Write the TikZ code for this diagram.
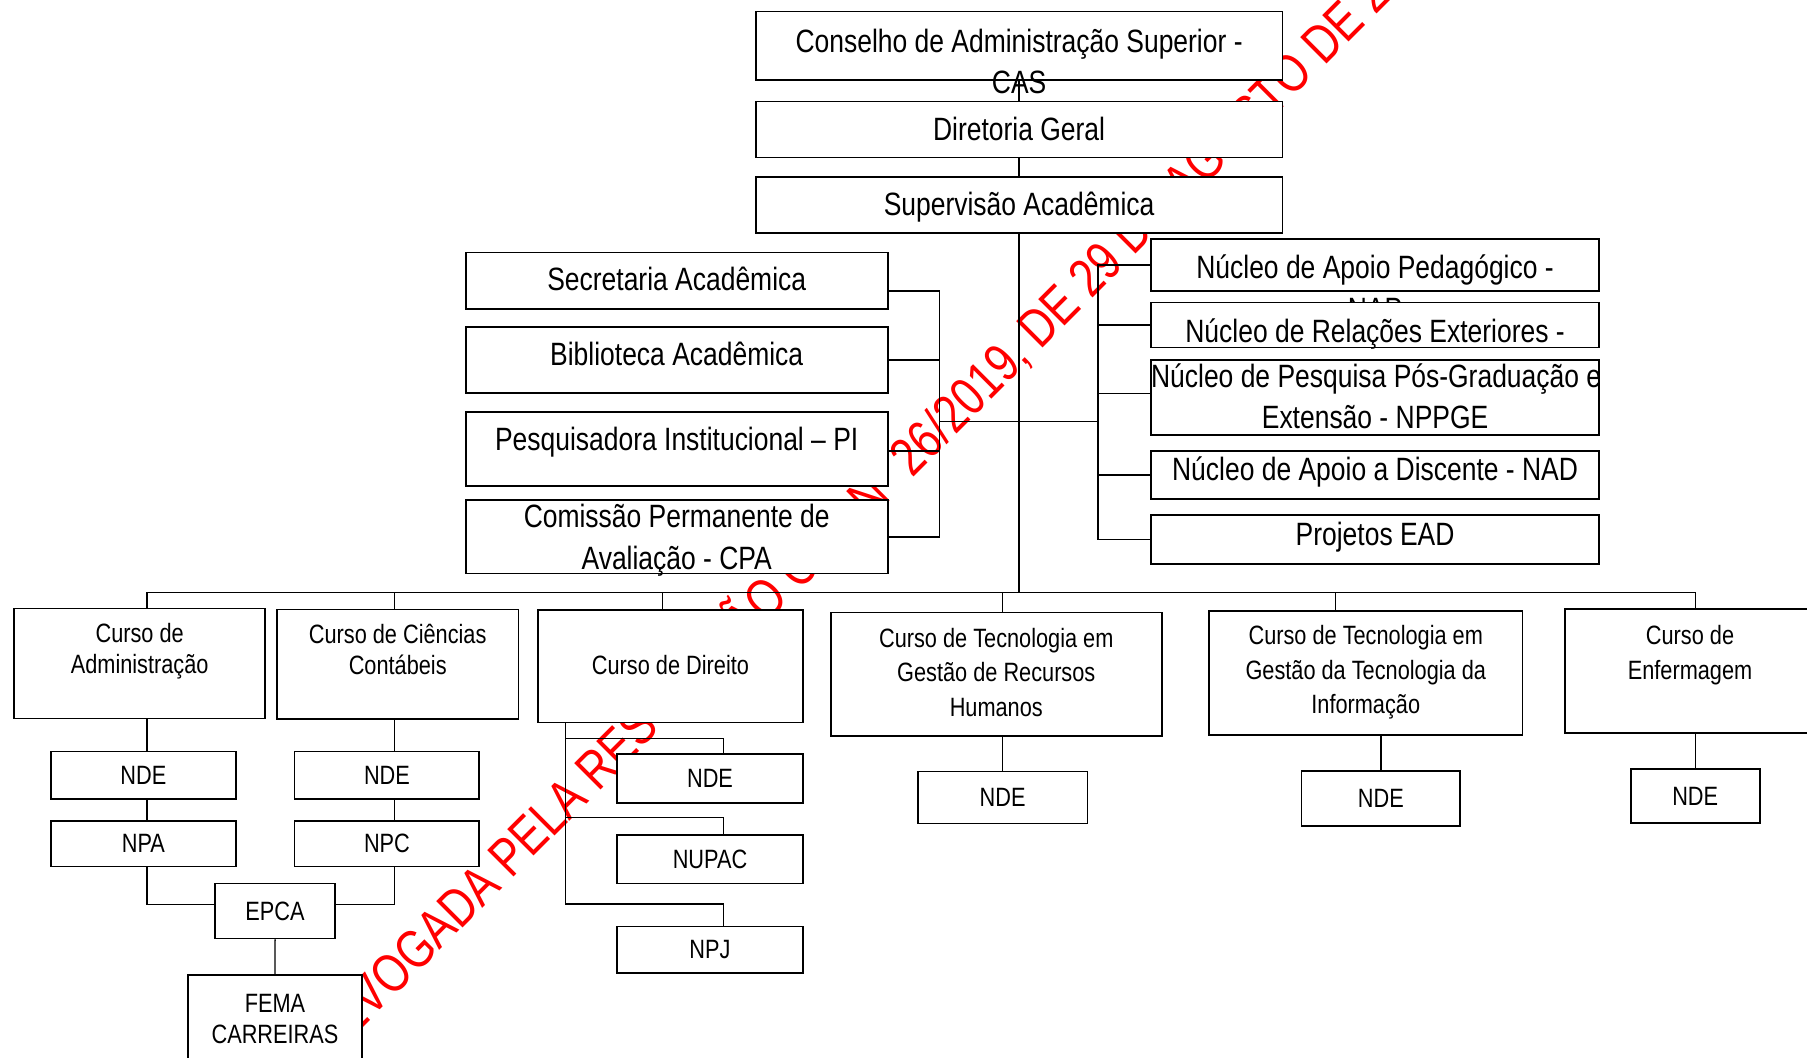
\documentclass[tikz,border=0pt]{standalone}
\usepackage{fontspec}
\setmainfont[FakeStretch=0.82]{Liberation Sans}
\newfontfamily\wmfont[FakeStretch=0.8]{Liberation Sans}

\pgfdeclarelayer{wm}
\pgfdeclarelayer{links}
\pgfsetlayers{wm,links,main}

\tikzset{
	orgbox/.style={draw, fill=white, line width=1.5pt, inner sep=0pt, align=flush center, anchor=north},
	big/.style={font=\fontsize{28}{36}\selectfont},
	small/.style={font=\fontsize{23}{27}\selectfont},
	wide/.style={font=\fontsize{23}{30}\selectfont},
	dims/.style n args={3}{text width=#1pt, text height=#2pt, text depth=#3pt},
	leaf/.style 2 args={orgbox, small, minimum width=#1pt, minimum height=#2pt},
	link/.style={line width=1.2pt}
}

\begin{document}
\begin{tikzpicture}[x=1pt, y=-1pt]
	\useasboundingbox (0,0) rectangle (1568,918);

	% direction
	\node [orgbox, big, dims={457}{35.5}{24}] (cas) at (884.3,9.3) {Conselho de Administração Superior -\\CAS};
	\node [orgbox, big, dims={457}{34.1}{14.5}] (dg) at (884.3,87.4) {Diretoria Geral};
	\node [orgbox, big, dims={457}{33.9}{15}] (sup) at (884.3,152.7) {Supervisão Acadêmica};

	% left group
	\node [orgbox, big, dims={366.3}{33.2}{16}] (sec) at (587.2,218.4) {Secretaria Acadêmica};
	\node [orgbox, big, dims={366.3}{33.8}{23.7}] (bib) at (587.2,282.9) {Biblioteca Acadêmica};
	\node [orgbox, big, dims={366.3}{33.9}{30.4}] (pi) at (587.2,356.6) {Pesquisadora Institucional – PI};
	\node [orgbox, big, dims={366.3}{23.7}{39.9}] (cpa) at (587.2,433.3) {Comissão Permanente de\\Avaliação - CPA};

	% right group
	\node [orgbox, big, dims={388.7}{34.5}{10.3}] (nap) at (1193.2,206.8) {Núcleo de Apoio Pedagógico -\\NAP};
	\node [orgbox, big, dims={388.7}{34.5}{4.5}] (nre) at (1193.2,261.8) {Núcleo de Relações Exteriores -};
	\node [orgbox, big, dims={388.7}{23.7}{41.4}] (nppge) at (1193.2,311.8) {\mbox{Núcleo de Pesquisa Pós-Graduação e}\\Extensão - NPPGE};
	\node [orgbox, big, dims={388.7}{26}{15.9}] (nad) at (1193.2,390.5) {Núcleo de Apoio a Discente - NAD};
	\node [orgbox, big, dims={388.7}{26.6}{15.9}] (ead) at (1193.2,446.3) {Projetos EAD};

	% courses
	\node [orgbox, small, dims={217.6}{29.5}{66}] (adm) at (121.2,527.3) {Curso de\\Administração};
	\node [orgbox, small, dims={209.8}{29.5}{65.6}] (cc) at (345.1,528.2) {Curso de Ciências\\Contábeis};
	\node [orgbox, small, dims={229.4}{55.8}{41.9}] (dir) at (581.8,528.5) {Curso de Direito};
	\node [orgbox, wide, dims={287.4}{30.2}{76.8}] (rh) at (864.5,530.8) {Curso de Tecnologia em\\Gestão de Recursos\\Humanos};
	\node [orgbox, wide, dims={272}{29.5}{78.1}] (ti) at (1185.1,529.3) {Curso de Tecnologia em\\Gestão da Tecnologia da\\Informação};
	\node [orgbox, wide, dims={217}{30.8}{76.2}] (enf) at (1466.5,528) {Curso de\\Enfermagem};

	% units of the courses
	\node [leaf={160.2}{41.4}] (ndeadm) at (124.4,651.4) {NDE};
	\node [leaf={160.2}{39.6}] (npa) at (124.4,711.6) {NPA};
	\node [leaf={160.3}{41.4}] (ndecc) at (335.8,651.4) {NDE};
	\node [leaf={160.3}{39.6}] (npc) at (335.8,711.6) {NPC};
	\node [leaf={104.1}{47.7}] (epca) at (238.7,766) {EPCA};
	\node [orgbox, font=\fontsize{23}{26.5}\selectfont, dims={150.6}{32.7}{60}] (fema) at (238.6,845.2) {FEMA\\CARREIRAS};
	\node [leaf={160.8}{42.3}] (ndedir) at (616.1,653.7) {NDE};
	\node [leaf={160.8}{42.3}] (nupac) at (616.1,723.7) {NUPAC};
	\node [leaf={160.8}{40.3}] (npj) at (616.1,803.2) {NPJ};
	\node [leaf={147.4}{45}] (nderh) at (870,668.8) {NDE};
	\node [leaf={137.6}{47.8}] (ndeti) at (1198.2,668.2) {NDE};
	\node [leaf={112}{47}] (ndeenf) at (1471,666.7) {NDE};

	\begin{pgfonlayer}{links}
		\draw [link] (cas) -- (dg);
		\draw [link] (dg) -- (sup);
		\coordinate (bus) at (884.3,514);
		\draw [link] (sup) -- (bus);

		\coordinate (lj) at (815.3,366);
		\coordinate (rj) at (952.8,366);
		\draw [link] ([yshift=-8.6pt]sec.east) -| (lj);
		\draw [link] (bib.east) -| (lj);
		\draw [link] ([yshift=-1.8pt]pi.east) -| (lj);
		\draw [link] (cpa.east) -| (lj);
		\draw [link] (lj) -- (rj);
		\draw [link] (nap.west) -| (rj);
		\draw [link] (nre.west) -| (rj);
		\draw [link] ([yshift=3.9pt]nppge.west) -| (rj);
		\draw [link] (nad.west) -| (rj);
		\draw [link] (ead.west) -| (rj);

		\draw [link] ([xshift=6.2pt]adm.north) |- (bus);
		\draw [link] ([xshift=-2.7pt]cc.north) |- (bus);
		\draw [link] ([xshift=-6.8pt]dir.north) |- (bus);
		\draw [link] ([xshift=5.5pt]rh.north) |- (bus);
		\draw [link] ([xshift=-26.5pt]ti.north) |- (bus);
		\draw [link] ([xshift=4.5pt]enf.north) |- (bus);

		\draw [link] ([xshift=6.2pt]adm.south) |- ([yshift=6pt]epca.west);
		\draw [link] ([xshift=-2.7pt]cc.south) |- ([yshift=6pt]epca.east);
		\draw [link] (epca) -- (fema);
		\draw [link] ([xshift=-91.2pt]dir.south) |- ([xshift=11.6pt,yshift=13pt]ndedir.north) -- ([xshift=11.6pt]ndedir.north);
		\draw [link] ([xshift=-91.2pt]dir.south) |- ([xshift=11.6pt,yshift=14.2pt]nupac.north) -- ([xshift=11.6pt]nupac.north);
		\draw [link] ([xshift=-91.2pt]dir.south) |- ([xshift=11.6pt,yshift=18.7pt]npj.north) -- ([xshift=11.6pt]npj.north);
		\draw [link] (nderh.north) -- (nderh.north |- rh.south);
		\draw [link] (ndeti.north) -- (ndeti.north |- ti.south);
		\draw [link] (ndeenf.north) -- (ndeenf.north |- enf.south);
	\end{pgfonlayer}

	\begin{pgfonlayer}{wm}
		\node [red, font=\wmfont\fontsize{47}{47}\selectfont, rotate=45, anchor=base west, inner sep=0pt] (revog) at (285.6,921.2) {REVOGADA PELA RESOLUÇÃO CAS Nº 26/2019, DE 29 DE AGOSTO DE 2019};
	\end{pgfonlayer}
\end{tikzpicture}
\end{document}
